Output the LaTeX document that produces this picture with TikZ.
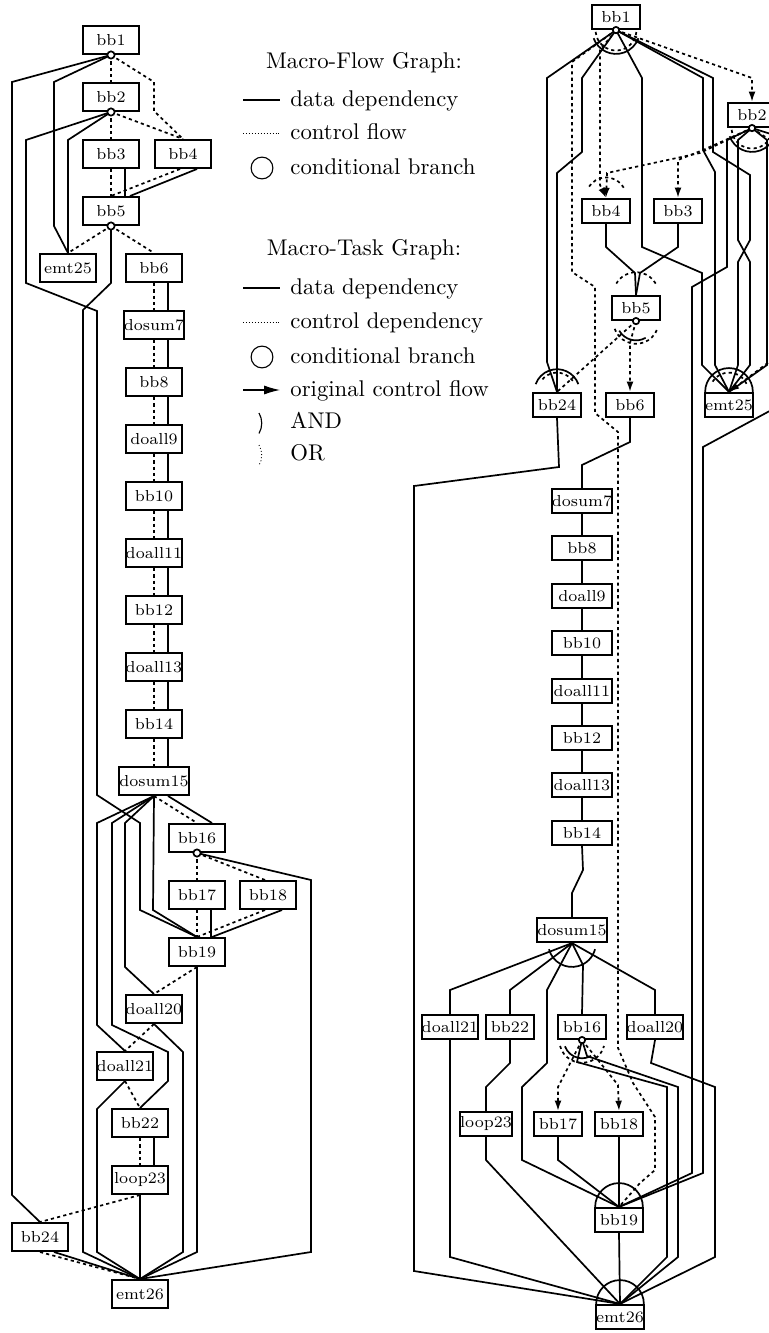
\documentclass[tikz,border=0pt]{standalone}
\usepackage{tikz}
\usetikzlibrary{arrows.meta,calc}

\begin{document}
\begin{tikzpicture}[x=0.44pt,y=-0.44pt,
  blk/.style={draw,line width=0.9pt,font=\scriptsize,inner xsep=0pt,inner ysep=1pt,minimum width=25pt,minimum height=12.3pt},
  tblk/.style={blk,minimum width=21.2pt,minimum height=10.6pt},
  tcol/.style={tblk,minimum width=26.8pt},
  dep/.style={line width=0.75pt},
  ctl/.style={line width=0.75pt,dash pattern=on 1.4pt off 1.4pt},
  cf/.style={ctl,-{Latex[length=4.5pt,width=3pt]}},
  cnd/.style={draw,line width=0.75pt,fill=white},
  leg/.style={anchor=west,inner sep=0pt,text height=1.5ex,text depth=.25ex}]
\useasboundingbox (0,0) rectangle (768,1333);

% legend
\node (hflow) at (364,63) {Macro-Flow Graph:};
\node (htask) at (364,250) {Macro-Task Graph:};
\foreach \y/\t [count=\i] in {100/data dependency,133/control flow,168/conditional branch,288/data dependency,322/control dependency,357/conditional branch,390/original control flow,422/AND,454/OR}
  \node[leg] (lg\i) at (290,\y) {\t};
\draw[line width=0.5pt] (243,100) -- (280,100);
\draw[line width=0.3pt,densely dotted] (243,133) -- (280,133);
\draw[line width=0.5pt] (262,168) circle (4.8pt);
\draw[line width=0.5pt] (243,288) -- (280,288);
\draw[line width=0.3pt,densely dotted] (243,322) -- (280,322);
\draw[line width=0.5pt] (262,357) circle (4.8pt);
\draw[line width=0.5pt,-{Latex[length=7pt,width=4pt]}] (243,390) -- (280,390);
\draw[line width=0.5pt] (259,413) arc (30:-30:9pt);
\draw[line width=0.4pt,densely dotted] (259,445) arc (30:-30:9pt);

% macro-flow graph
\node[blk] (f1) at (111,40) {bb1};
\node[blk] (f2) at (111,97) {bb2};
\node[blk] (f3) at (111,154) {bb3};
\node[blk] (f4) at (183,154) {bb4};
\node[blk] (f5) at (111,211) {bb5};
\node[blk] (f25) at (68,268) {emt25};
\foreach \n/\t in {6/bb6,7/dosum7,8/bb8,9/doall9,10/bb10,11/doall11,12/bb12,13/doall13,14/bb14,15/dosum15}
  \node[blk] (f\n) at (154,{268+57*(\n-6)}) {\t};
\node[blk] (f16) at (197,838) {bb16};
\node[blk] (f17) at (197,895) {bb17};
\node[blk] (f18) at (268,895) {bb18};
\node[blk] (f19) at (197,952) {bb19};
\node[blk] (f20) at (154,1009) {doall20};
\node[blk] (f21) at (125,1066) {doall21};
\node[blk] (f22) at (140,1123) {bb22};
\node[blk] (f23) at (140,1180) {loop23};
\node[blk] (f24) at (40,1237) {bb24};
\node[blk] (f26) at (140,1294) {emt26};

\draw[ctl] (f1.south) -- (f2.north);
\draw[ctl] (f1.south) -- (154,82) -- (154,111) -- (f4.north);
\draw[dep] (f1.south) -- (12,82) -- (12,1195) -- (f24.north);
\draw[dep] (f1.south) -- (54,82) -- (54,226) -- (f25.north);
\draw[ctl] (f2.south) -- (f3.north);
\draw[ctl] (f2.south) -- (f4.north);
\draw[dep] (f2.south) -- (68,140) -- (f25.north);
\draw[dep] (f2.south) -- (26,140) -- (26,283) -- (97,311) -- (97,795) -- (140,823) -- (140,910) -- (f19.north);
\draw[ctl] (f3.south) -- (f5.north);
\draw[dep] ($(f3.south)+(14,0)$) -- ($(f5.north)+(14,0)$);
\draw[ctl] ($(f4.south)+(-3,0)$) -- (f5.north);
\draw[dep] ($(f4.south)+(14,0)$) -- ($(f5.north)+(19,0)$);
\draw[ctl] (f5.south) -- (f25.north);
\draw[ctl] (f5.south) -- (f6.north);
\draw[dep] (f5.south) -- (111,283) -- (83,310) -- (83,1252) -- (f26.north);
\foreach \a [count=\b from 7] in {6,...,14}{
  \draw[ctl] (f\a.south) -- (f\b.north);
  \draw[dep] ($(f\a.south)+(14,0)$) -- ($(f\b.north)+(14,0)$);
}
\draw[ctl] (f15.south) -- (f16.north);
\draw[dep] ($(f15.south)+(14,0)$) -- ($(f16.north)+(15,0)$);
\draw[dep] (f15.south) -- (153,910) -- (f19.north);
\draw[dep] (f15.south) -- (97,823) -- (97,1025) -- (f21.north);
\draw[dep] (f15.south) -- (112,823) -- (112,1025) -- (168,1052) -- (168,1081) -- (f22.north);
\draw[dep] (f15.south) -- (125,823) -- (125,967) -- (f20.north);
\draw[ctl] (f16.south) -- (f17.north);
\draw[ctl] (f16.south) -- ($(f18.north)+(-3,0)$);
\draw[dep] (f16.south) -- (311,880) -- (311,1252) -- (f26.north);
\draw[ctl] (f17.south) -- (f19.north);
\draw[dep] ($(f17.south)+(14,0)$) -- ($(f19.north)+(14,0)$);
\draw[ctl] ($(f18.south)+(-3,0)$) -- (f19.north);
\draw[dep] ($(f18.south)+(14,0)$) -- ($(f19.north)+(15,0)$);
\draw[ctl] (f19.south) -- (f20.north);
\draw[dep] (f19.south) -- (197,1252) -- (f26.north);
\draw[ctl] (f20.south) -- (f21.north);
\draw[dep] (f20.south) -- (183,1052) -- (183,1252) -- (f26.north);
\draw[ctl] (f21.south) -- (f22.north);
\draw[dep] (f21.south) -- (97,1109) -- (97,1252) -- (f26.north);
\draw[ctl] (f22.south) -- (f23.north);
\draw[dep] ($(f22.south)+(14,0)$) -- ($(f23.north)+(14,0)$);
\draw[ctl] (f23.south) -- (f24.north);
\draw[dep] (f23.south) -- (f26.north);
\draw[ctl] (f24.south) -- (f26.north);
\draw[dep] ($(f24.south)+(14,0)$) -- (f26.north);
\foreach \n in {1,2,5,16}
  \draw[cnd] (f\n.south) circle (1.6pt);

% macro-task graph
\node[tblk] (t1) at (616,17) {bb1};
\node[tblk] (t2) at (752,115) {bb2};
\node[tblk] (t4) at (606,211) {bb4};
\node[tblk] (t3) at (678,211) {bb3};
\node[tblk] (t5) at (636,308) {bb5};
\node[tblk] (t24) at (557,405) {bb24};
\node[tblk] (t6) at (630,405) {bb6};
\node[tblk] (t25) at (729,405) {emt25};
\foreach \n/\t in {7/dosum7,8/bb8,9/doall9,10/bb10,11/doall11,12/bb12,13/doall13,14/bb14}
  \node[tcol] (t\n) at (582,{501+47.4*(\n-7)}) {\t};
\node[tblk] (t15) at (572,930) {dosum15};
\node[tblk] (t21) at (450,1027) {doall21};
\node[tblk] (t22) at (510,1027) {bb22};
\node[tblk] (t16) at (582,1027) {bb16};
\node[tblk] (t20) at (655,1027) {doall20};
\node[tblk] (t23) at (486,1124) {loop23};
\node[tblk] (t17) at (558,1124) {bb17};
\node[tblk] (t18) at (619,1124) {bb18};
\node[tblk] (t19) at (619,1220) {bb19};
\node[tblk] (t26) at (620,1317) {emt26};

\draw[dep] (t1.south) -- (547,78) -- (547,362) -- (t24.north);
\draw[dep] (t1.south) -- (582,78) -- (582,152) -- (557,173) -- (t24.north);
\draw[ctl] (t1.south) -- (572,62) -- (572,272) -- (595,287) -- (595,413) -- (618,432) -- (618,1048) -- (633,1083) -- (655,1117) -- (655,1170) -- (640,1183) -- (t19.north);
\draw[cf] (t1.south) -- (600,50) -- (600,185) -- (t4.north);
\draw[cf] (t1.south) -- (752,78) -- (t2.north);
\draw[dep] (t1.south) -- (642,78) -- (642,247) -- (702,273) -- (702,365) -- (t25.north);
\draw[dep] (t1.south) -- (703,78) -- (703,150) -- (715,172) -- (715,365) -- (t25.north);
\draw[dep] (t1.south) -- (713,78) -- (713,152) -- (750,175) -- (750,240) -- (738,262) -- (738,365) -- (t25.north);
\draw[dep] (t2.south) -- (738,140) -- (738,240) -- (750,262) -- (750,365) -- (t25.north);
\draw[dep] (t2.south) -- (727,140) -- (727,267) -- (692,287) -- (692,1173) -- (t19.north);
\draw[dep] (t2.south) -- (767,140) -- (767,365) -- (t25.north);
\draw[dep] (t2.south) -- (790,140) -- (790,400) -- (703,447) -- (703,1173) -- (t19.north);
\draw[cf] (t2.south) -- (700,153) -- (607,173) -- (t4.north);
\draw[cf] (t2.south) -- (703,150) -- (678,160) -- (t3.north);
\draw[cf] (t2.south) -- (785,150) -- (785,350) -- (t25.north);
\draw[dep] (t4.south) -- (606,247) -- (635,273) -- (t5.north);
\draw[dep] (t3.south) -- (678,247) -- (640,273) -- (t5.north);
\draw[ctl] (t5.south) -- (t24.north);
\draw[cf] (t5.south) -- (630,343) -- (t6.north);
\draw[dep] (t24.south) -- (559,467) -- (414,486) -- (414,1271) -- (t26.north);
\draw[dep] (t6.south) -- (630,442) -- (582,465) -- (t7.north);
\foreach \a [count=\b from 8] in {7,...,13}
  \draw[dep] (t\a.south) -- (t\b.north);
\draw[dep] (t14.south) -- (583,870) -- (572,893) -- (t15.north);
\draw[dep] (t15.south) -- (450,990) -- (t21.north);
\draw[dep] (t15.south) -- (510,990) -- (t22.north);
\draw[dep] (t15.south) -- (547,990) -- (547,1063) -- (522,1087) -- (522,1160) -- (t19.north);
\draw[dep] (t15.south) -- (583,965) -- (t16.north);
\draw[dep] (t15.south) -- (655,990) -- (t20.north);
\draw[dep] (t21.south) -- (450,1257) -- (t26.north);
\draw[dep] (t22.south) -- (510,1063) -- (486,1087) -- (t23.north);
\draw[dep] (t23.south) -- (486,1160) -- (t26.north);
\draw[cf] (t16.south) -- (558,1087) -- (t17.north);
\draw[cf] (t16.south) -- (618,1085) -- (t18.north);
\draw[dep] (t16.south) -- (577,1062) -- (667,1087) -- (667,1257) -- (t26.north);
\draw[dep] (t16.south) -- (587,1056) -- (678,1087) -- (678,1257) -- (t26.north);
\draw[dep] (t20.south) -- (651,1063) -- (715,1087) -- (715,1257) -- (t26.north);
\draw[dep] (t17.south) -- (558,1160) -- (t19.north);
\draw[dep] (t18.south) -- (t19.north);
\draw[dep] (t19.south) -- (t26.north);

% AND / OR arcs
\draw[dep] (t1.south) ++(200:10.5pt) arc (200:340:10.5pt);
\draw[ctl] (t1.south) ++(185:9pt) arc (185:355:9pt);
\draw[dep] (t2.south) ++(200:10.5pt) arc (200:340:10.5pt);
\draw[ctl] (t2.south) ++(185:9pt) arc (185:355:9pt);
\draw[ctl] (t4.north) ++(30:9pt) arc (30:150:9pt);
\draw[ctl] (t5.north) ++(30:10pt) arc (30:150:10pt);
\draw[dep] (t5.south) ++(210:8.5pt) arc (210:300:8.5pt);
\draw[ctl] (t5.south) ++(200:10pt) arc (200:340:10pt);
\draw[dep] (t24.north) ++(20:10pt) arc (20:160:10pt);
\draw[ctl] (t24.north) ++(35:8.5pt) arc (35:145:8.5pt);
\draw[dep] (t25.north) ++(0:10.5pt) arc (0:180:10.5pt);
\draw[ctl] (t25.north) ++(25:8.5pt) arc (25:155:8.5pt);
\draw[dep] (t15.south) ++(195:10.5pt) arc (195:345:10.5pt);
\draw[dep] (t16.south) ++(200:8pt) arc (200:300:8pt);
\draw[ctl] (t16.south) ++(195:10pt) arc (195:345:10pt);
\draw[dep] (t19.north) ++(0:10.5pt) arc (0:180:10.5pt);
\draw[dep] (t26.north) ++(0:10.5pt) arc (0:180:10.5pt);
\foreach \n in {1,2,5,16}
  \draw[cnd] (t\n.south) circle (1.4pt);
\end{tikzpicture}
\end{document}
